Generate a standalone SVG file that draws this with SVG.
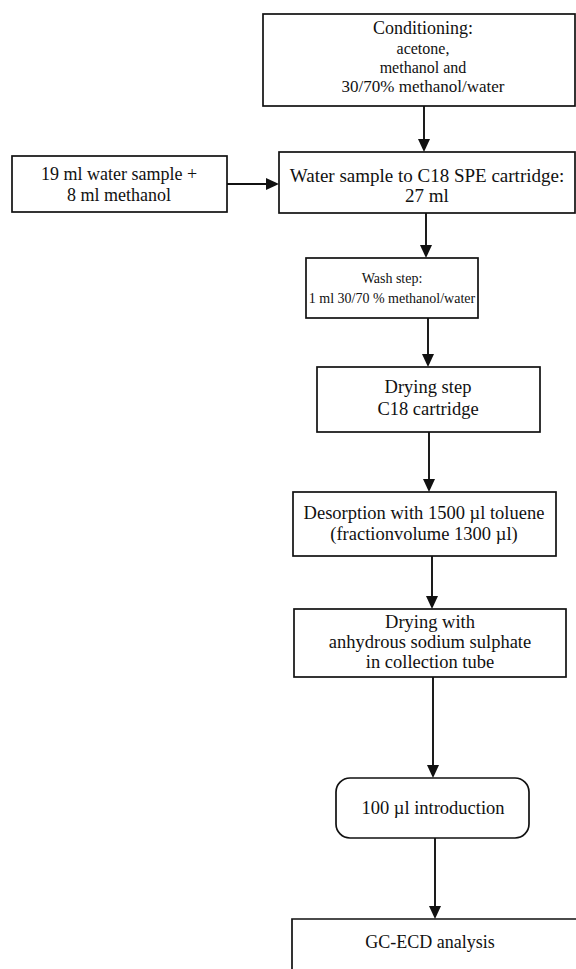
<svg xmlns="http://www.w3.org/2000/svg" width="576" height="969" viewBox="0 0 576 969">
<defs>
<style>
.box{fill:#fff;stroke:#111;stroke-width:1.7}
.t{font-family:"Liberation Serif","Times New Roman",serif;fill:#111;text-anchor:middle}
.ln{stroke:#111;stroke-width:1.9;fill:none}
.hd{fill:#111}
</style>
</defs>
<rect width="576" height="969" fill="#fff"/>
<g id="connectors">
<line class="ln" x1="424" y1="106" x2="424" y2="140"/><polygon class="hd" points="418,139 430,139 424,152"/>
<line class="ln" x1="227" y1="184" x2="267" y2="184"/><polygon class="hd" points="266,178 266,190 279,184"/>
<line class="ln" x1="426" y1="213" x2="426" y2="246"/><polygon class="hd" points="420,245 432,245 426,258"/>
<line class="ln" x1="428" y1="318" x2="428" y2="355"/><polygon class="hd" points="422,354 434,354 428,367"/>
<line class="ln" x1="429" y1="432" x2="429" y2="480"/><polygon class="hd" points="423,479 435,479 429,492"/>
<line class="ln" x1="432" y1="556" x2="432" y2="597"/><polygon class="hd" points="426,596 438,596 432,609"/>
<line class="ln" x1="433" y1="677" x2="433" y2="766"/><polygon class="hd" points="427,765 439,765 433,778"/>
<line class="ln" x1="435" y1="838" x2="435" y2="907"/><polygon class="hd" points="429,906 441,906 435,919"/>
</g>
<g id="conditioning">
<rect class="box" x="263" y="14" width="312" height="92"/>
<text class="t" x="423" y="34" font-size="18">Conditioning:</text>
<text class="t" x="423" y="54" font-size="16">acetone,</text>
<text class="t" x="423" y="72.5" font-size="16">methanol and</text>
<text class="t" x="423" y="92" font-size="17">30/70% methanol/water</text>
</g>
<g id="sample">
<rect class="box" x="12" y="156" width="215" height="56"/>
<text class="t" x="119" y="180" font-size="18">19 ml water sample +</text>
<text class="t" x="119" y="201" font-size="18">8 ml methanol</text>
</g>
<g id="load">
<rect class="box" x="279" y="152" width="296" height="61"/>
<text class="t" x="427" y="182" font-size="19">Water sample to C18 SPE cartridge:</text>
<text class="t" x="427" y="202" font-size="19">27 ml</text>
</g>
<g id="wash">
<rect class="box" x="306" y="258" width="172" height="60"/>
<text class="t" x="392" y="283" font-size="14">Wash step:</text>
<text class="t" x="392" y="303" font-size="14">1 ml 30/70 % methanol/water</text>
</g>
<g id="drying1">
<rect class="box" x="317" y="367" width="223" height="65"/>
<text class="t" x="428" y="393" font-size="18.5">Drying step</text>
<text class="t" x="428" y="415" font-size="18.5">C18 cartridge</text>
</g>
<g id="desorption">
<rect class="box" x="293" y="492" width="263" height="64"/>
<text class="t" x="424" y="519" font-size="18.5">Desorption with 1500 µl toluene</text>
<text class="t" x="424" y="540" font-size="18.5">(fractionvolume 1300 µl)</text>
</g>
<g id="drying2">
<rect class="box" x="294" y="609" width="272" height="68"/>
<text class="t" x="430" y="628" font-size="18.5">Drying with</text>
<text class="t" x="430" y="648" font-size="18.5">anhydrous sodium sulphate</text>
<text class="t" x="430" y="668" font-size="18.5">in collection tube</text>
</g>
<g id="introduction">
<rect class="box" x="336" y="778" width="193" height="60" rx="14"/>
<text class="t" x="433" y="814" font-size="18.5">100 µl introduction</text>
</g>
<g id="analysis">
<path class="box" d="M292 975 V919 H580" fill="none"/>
<text class="t" x="430" y="948" font-size="18">GC-ECD analysis</text>
</g>
</svg>
